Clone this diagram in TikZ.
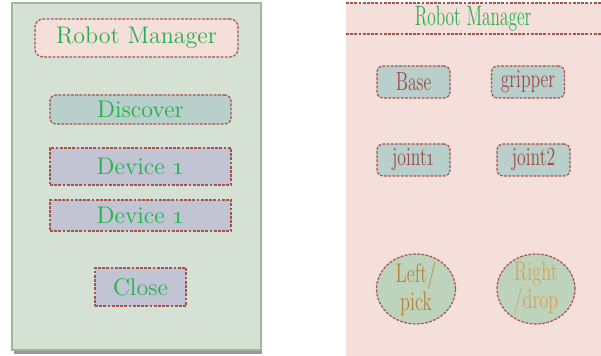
\documentclass[tikz,border=0pt]{standalone}
\usepackage{graphicx}
\usetikzlibrary{positioning, shapes.geometric}

\definecolor{panelgreen}{HTML}{D6E1D5}
\definecolor{paneledge}{HTML}{9DBB9A}
\definecolor{rose}{HTML}{F5DFDB}
\definecolor{teal}{HTML}{B9CFCB}
\definecolor{lavender}{HTML}{C0C4D3}
\definecolor{sage}{HTML}{BDD3BB}
\definecolor{rim}{HTML}{A8524A}
\definecolor{txtgreen}{HTML}{22B14C}
\definecolor{txtbrown}{HTML}{A0493F}
\definecolor{txtorange}{HTML}{B8823A}
\definecolor{txtlight}{HTML}{D9A05A}

\newcommand{\narrow}[1]{\scalebox{0.68}[1]{#1}}

\begin{document}
\begin{tikzpicture}[
        x=0.5pt, y=-0.5pt,
        rim/.style = {draw=rim, line width=0.6pt, dash pattern=on 1.4pt off 0.7pt},
        box/.style 2 args = {rectangle, rim, fill=#1, inner sep=0pt,
                    minimum width=#2, font=\fontsize{12}{14}\selectfont, text=txtgreen},
        tab/.style = {rectangle, rounded corners=3pt, rim, fill=teal, inner sep=0pt,
                    minimum width=36.5pt, minimum height=16pt,
                    font=\fontsize{13}{14}\selectfont, text=txtbrown},
        knob/.style = {ellipse, rim, fill=sage, inner sep=-2pt,
                    minimum width=39.5pt, minimum height=35pt, align=center,
                    font=\fontsize{13.5}{14}\selectfont}
                    ]
        \useasboundingbox (0,0) rectangle (601,356);
        % left window
        \fill[gray!80] (14,349) rectangle (262,354);
        \draw[paneledge, fill=panelgreen, line width=1pt] (12,3) rectangle (261,350);
        \node (title) [box={rose}{101.5pt}, rounded corners=4pt, minimum height=19pt] at (136.5,38) {Robot Manager};
        \node (discover) [box={teal}{90.5pt}, rounded corners=3pt, minimum height=14.5pt] at (140.5,109.5) {Discover};
        \node (dev1) [box={lavender}{90.5pt}, minimum height=18.5pt] at (140.5,166.5) {Device \oldstylenums{1}};
        \node (dev2) [box={lavender}{90.5pt}, minimum height=15.5pt] at (140.5,215.5) {Device \oldstylenums{1}};
        \node (close) [box={lavender}{45.5pt}, minimum height=19pt] at (140.5,287) {Close};
        % right window
        \fill[rose] (346,3) rectangle (601,356);
        \draw[rim] (346,3) -- (601,3);
        \draw[rim] (346,34) -- (601,34);
        \node (head) [text=txtgreen, font=\fontsize{14}{15}\selectfont] at (473,19) {\scalebox{0.62}[1]{Robot Manager}};
        \node (base) [tab] at (413.5,82) {\narrow{Base}};
        \node (gripper) [tab] at (528,82) {\narrow{gripper}};
        \node (joint1) [tab] at (413.5,160) {\narrow{joint\oldstylenums{1}}};
        \node (joint2) [tab] at (533.5,160) {\narrow{joint2}};
        \node (left) [knob, text=txtorange] at (416,289) {\narrow{Left/}\\\narrow{pick}};
        \node (right) [knob, text=txtlight, minimum width=39pt] at (536,289) {\narrow{Right}\\\narrow{/drop}};
    \end{tikzpicture}
\end{document}
